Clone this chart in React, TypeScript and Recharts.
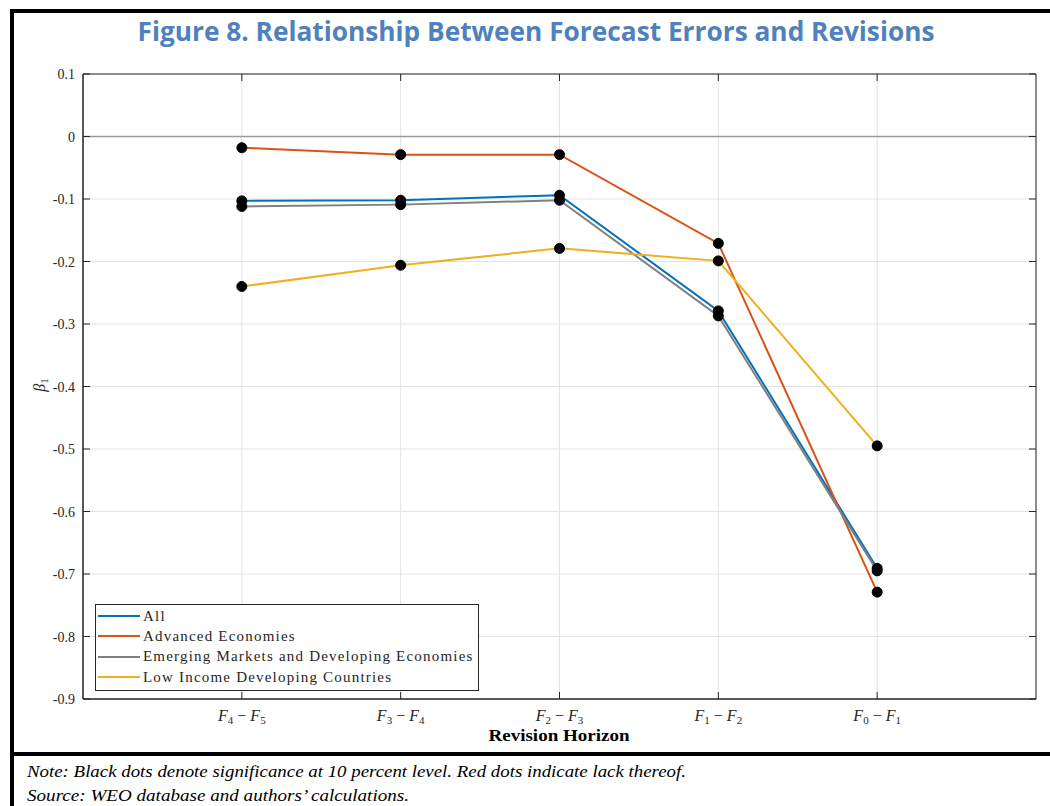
import { LineChart, Line, XAxis, YAxis, CartesianGrid, ReferenceLine, ReferenceArea, Legend } from 'recharts'

// revision horizons, plotted at x = 1..5
const horizons = [1, 2, 3, 4, 5]
const horizonSubs = [
  ['4', '5'],
  ['3', '4'],
  ['2', '3'],
  ['1', '2'],
  ['0', '1'],
]
const yTicks = [-0.9, -0.8, -0.7, -0.6, -0.5, -0.4, -0.3, -0.2, -0.1, 0, 0.1]
const seriesNames = [
  'All',
  'Advanced Economies',
  'Emerging Markets and Developing Economies',
  'Low Income Developing Countries',
]

const allCountries = [-0.103, -0.102, -0.094, -0.279, -0.691]
const advanced = [-0.018, -0.029, -0.029, -0.171, -0.729]
const emerging = [-0.112, -0.109, -0.102, -0.287, -0.695]
const lowIncome = [-0.240, -0.206, -0.179, -0.199, -0.495]

const data = horizons.map((h, i) => ({
  h,
  all: allCountries[i],
  ae: advanced[i],
  emde: emerging[i],
  lidc: lowIncome[i],
}))

const PLOT_TOP = 74
const PLOT_RIGHT = 1036
const AXIS = '#262626'
const serif = '"Liberation Serif", "Times New Roman", serif'
const blackDot = { r: 5, fill: '#000', stroke: '#000', strokeWidth: 1 }

function XTick(props: any) {
  const { x, y, payload } = props
  const subs = horizonSubs[payload.value - 1]
  if (!subs) return null
  const axisY = y - 12
  return (
    <g>
      <line x1={x} x2={x} y1={axisY} y2={axisY - 7} stroke={AXIS} />
      <line x1={x} x2={x} y1={PLOT_TOP} y2={PLOT_TOP + 7} stroke={AXIS} />
      <text x={x} y={y + 10} textAnchor="middle" fontFamily={serif} fontSize={16} fill={AXIS}>
        <tspan fontStyle="italic">F</tspan>
        <tspan fontSize={11} dy={3}>{subs[0]}</tspan>
        <tspan dy={-3}>{' \u2212 '}</tspan>
        <tspan fontStyle="italic">F</tspan>
        <tspan fontSize={11} dy={3}>{subs[1]}</tspan>
      </text>
    </g>
  )
}

function YTick(props: any) {
  const { x, y, payload } = props
  const v = payload.value
  const label = Math.abs(v) < 1e-9 ? '0' : v.toFixed(1)
  const axisX = x + 8
  return (
    <g>
      <line x1={axisX} x2={axisX + 7} y1={y} y2={y} stroke={AXIS} />
      <line x1={PLOT_RIGHT} x2={PLOT_RIGHT - 7} y1={y} y2={y} stroke={AXIS} />
      <text x={x} y={y + 5} textAnchor="end" fontFamily={serif} fontSize={14} fill={AXIS}>
        {label}
      </text>
    </g>
  )
}

function LegendBox(props: any) {
  const items = [...(props.payload || [])].sort(
    (a: any, b: any) => seriesNames.indexOf(a.value) - seriesNames.indexOf(b.value),
  )
  return (
    <div
      style={{
        border: `1px solid ${AXIS}`,
        background: '#fff',
        padding: '1px 4px 3px 2px',
        fontFamily: serif,
        fontSize: 15,
        letterSpacing: 1.2,
        color: AXIS,
      }}
    >
      {items.map((entry: any) => (
        <div key={entry.value} style={{ display: 'flex', alignItems: 'center', height: 20.3 }}>
          <span style={{ display: 'inline-block', width: 42, height: 2, background: entry.color, marginRight: 3 }} />
          <span style={{ whiteSpace: 'nowrap' }}>{entry.value}</span>
        </div>
      ))}
    </div>
  )
}

export default function App() {
  return (
    <div style={{ position: 'absolute', left: 0, top: 0, width: 1050, height: 806, background: '#fff' }}>
      <LineChart
        width={1050}
        height={760}
        data={data}
        margin={{ top: PLOT_TOP, right: 1050 - PLOT_RIGHT, bottom: 11, left: 0 }}
      >
        <CartesianGrid stroke="#e3e3e3" />
        <XAxis
          dataKey="h"
          type="number"
          domain={[0, 6]}
          ticks={horizons}
          height={50}
          tickSize={0}
          tickMargin={12}
          axisLine={{ stroke: AXIS }}
          tickLine={false}
          tick={<XTick />}
        />
        <YAxis
          type="number"
          domain={[-0.9, 0.1]}
          ticks={yTicks}
          width={83}
          tickSize={0}
          tickMargin={8}
          axisLine={{ stroke: AXIS }}
          tickLine={false}
          tick={<YTick />}
        />
        <ReferenceArea x1={0} x2={6} y1={-0.9} y2={0.1} fill="none" stroke={AXIS} strokeWidth={1} />
        <ReferenceLine y={0} stroke="#9a9a9a" strokeWidth={1.5} />
        <Legend
          layout="vertical"
          align="center"
          verticalAlign="middle"
          content={<LegendBox />}
          wrapperStyle={{ position: 'absolute', left: 95, top: 604, width: 'auto' }}
        />
        <Line dataKey="all" name={seriesNames[0]} stroke="#0072BD" strokeWidth={2}
          dot={blackDot} isAnimationActive={false} />
        <Line dataKey="ae" name={seriesNames[1]} stroke="#D95319" strokeWidth={2}
          dot={blackDot} isAnimationActive={false} />
        <Line dataKey="emde" name={seriesNames[2]} stroke="#808080" strokeWidth={2}
          dot={blackDot} isAnimationActive={false} />
        <Line dataKey="lidc" name={seriesNames[3]} stroke="#EDB120" strokeWidth={2}
          dot={blackDot} isAnimationActive={false} />
      </LineChart>

      <svg width={1050} height={806} style={{ position: 'absolute', left: 0, top: 0, pointerEvents: 'none' }}>
        {/* outer frame */}
        <rect x={10} y={9} width={1040} height={4} fill="#000" />
        <rect x={10} y={9} width={4} height={797} fill="#000" />
        <rect x={10} y={752} width={1040} height={4} fill="#000" />

        <text
          x={536}
          y={41}
          textAnchor="middle"
          fontFamily='"Open Sans", Lato, sans-serif'
          fontWeight={700}
          fontSize={26}
          fill="#4F81BD"
          textLength={797}
          lengthAdjust="spacingAndGlyphs"
        >
          Figure 8. Relationship Between Forecast Errors and Revisions
        </text>

        {/* y axis title */}
        <text transform="translate(45 385) rotate(-90)" textAnchor="middle" fontFamily={serif} fontSize={16} fill={AXIS}>
          <tspan fontStyle="italic">β</tspan>
          <tspan fontSize={11} dy={3}>1</tspan>
        </text>

        <text x={559} y={741} textAnchor="middle" fontFamily={serif} fontWeight={700} fontSize={16} fill="#000"
          textLength={141} lengthAdjust="spacingAndGlyphs">
          Revision Horizon
        </text>

        <text x={27} y={777} fontFamily={serif} fontStyle="italic" fontSize={17} fill="#000"
          textLength={659} lengthAdjust="spacingAndGlyphs">
          Note: Black dots denote significance at 10 percent level. Red dots indicate lack thereof.
        </text>
        <text x={27} y={801} fontFamily={serif} fontStyle="italic" fontSize={17} fill="#000"
          textLength={382} lengthAdjust="spacingAndGlyphs">
          Source: WEO database and authors’ calculations.
        </text>
      </svg>
    </div>
  )
}
